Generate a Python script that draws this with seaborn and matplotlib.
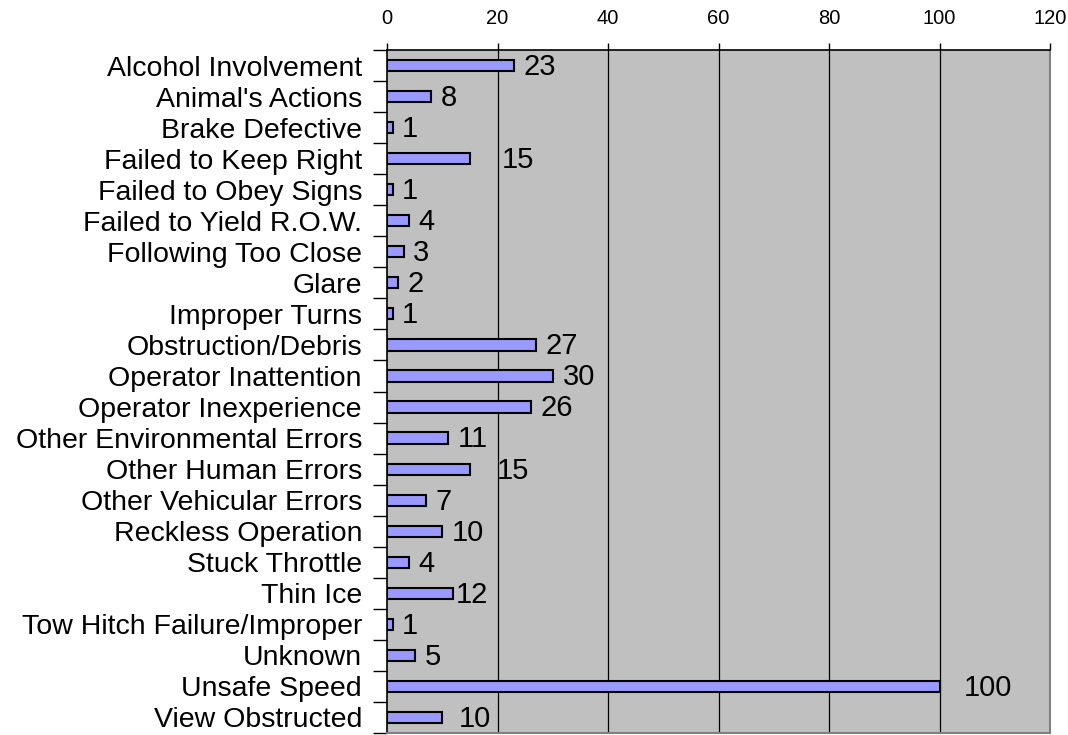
import matplotlib
matplotlib.use("Agg")
import matplotlib.pyplot as plt
import seaborn as sns
import pandas as pd
import numpy as np

categories = [
    "Alcohol Involvement", "Animal's Actions", "Brake Defective",
    "Failed to Keep Right", "Failed to Obey Signs", "Failed to Yield R.O.W.",
    "Following Too Close", "Glare", "Improper Turns", "Obstruction/Debris",
    "Operator Inattention", "Operator Inexperience",
    "Other Environmental Errors", "Other Human Errors",
    "Other Vehicular Errors", "Reckless Operation", "Stuck Throttle",
    "Thin Ice", "Tow Hitch Failure/Improper", "Unknown", "Unsafe Speed",
    "View Obstructed",
]
values = [23, 8, 1, 15, 1, 4, 3, 2, 1, 27, 30, 26, 11, 15, 7, 10, 4, 12, 1, 5, 100, 10]
x_ticks = [0, 20, 40, 60, 80, 100, 120]

# label nudges in pixels (Excel placement quirks)
label_nudge = {3: 22, 13: 17, 17: -7, 20: 15, 21: 7}

sns.set_theme(style="white")
plt.rcParams["font.family"] = ["Liberation Sans", "DejaVu Sans"]

df = pd.DataFrame({"cause": categories, "count": values})

fig = plt.figure(figsize=(10.68, 7.35), dpi=100)
ax = fig.add_axes([387 / 1068, 1 - 733 / 735, (1050 - 387) / 1068, (733 - 50) / 735])
ax.set_facecolor("#C0C0C0")

sns.barplot(data=df, x="count", y="cause", orient="h", color="#9999FF",
            saturation=1, edgecolor="black", linewidth=1.5, width=0.36, ax=ax)

ax.set_xlim(0, 120)
ax.set_ylim(len(categories) - 0.5, -0.5)
ax.set_xticks(x_ticks)
ax.xaxis.tick_top()
ax.tick_params(axis="x", which="major", top=True, bottom=False, length=5,
               width=1, color="black", pad=11, labelsize=14.5, labelcolor="black")
ax.set_yticks(np.arange(len(categories)))
ax.set_yticklabels(categories)
ax.set_yticks(np.arange(len(categories) + 1) - 0.5, minor=True)
ax.tick_params(axis="y", which="major", left=False, length=0, pad=18,
               labelsize=20.5, labelcolor="black")
ax.tick_params(axis="y", which="minor", left=True, length=10, width=1, color="black")
ax.set_xlabel("")
ax.set_ylabel("")

for g in x_ticks[1:-1]:
    ax.axvline(g, color="black", linewidth=0.9, zorder=0.5)
ax.set_axisbelow(True)

for s in ["top", "left"]:
    ax.spines[s].set_visible(True)
    ax.spines[s].set_color("black")
    ax.spines[s].set_linewidth(1.2)
for s in ["right", "bottom"]:
    ax.spines[s].set_visible(True)
    ax.spines[s].set_color("#808080")
    ax.spines[s].set_linewidth(1.5)

for i, v in enumerate(values):
    ax.annotate(str(v), xy=(v, i), xytext=(7 + label_nudge.get(i, 0) * 0.72, -1),
                textcoords="offset points", va="center", ha="left",
                fontsize=21, color="black")

fig.savefig("out.png", dpi=100)
